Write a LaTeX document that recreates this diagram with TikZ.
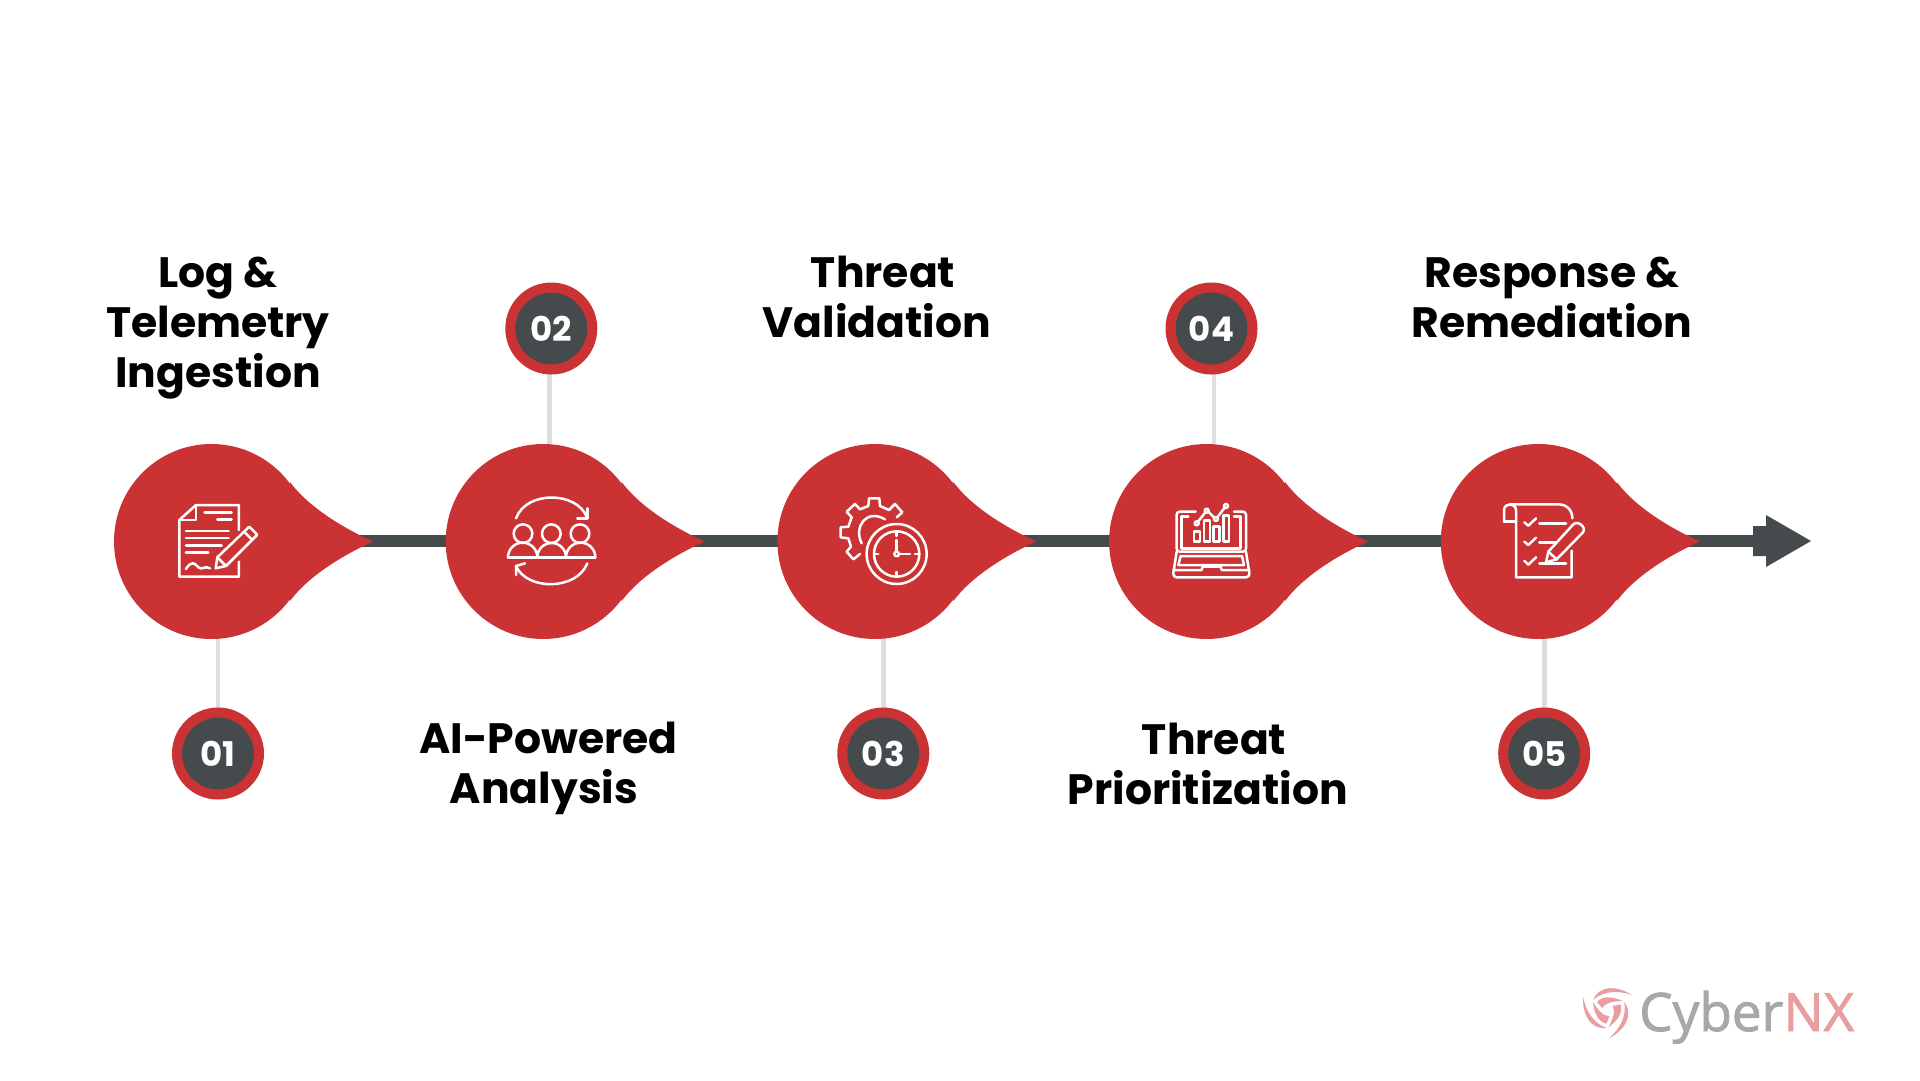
\documentclass[tikz,border=0pt]{standalone}
\usepackage{fontspec}
\setmainfont{Poppins}
\newfontfamily\logofont[FakeBold=1.6]{Open Sans}
\usepackage{xcolor}
\usetikzlibrary{positioning,backgrounds}
\definecolor{blobred}{HTML}{CB3234}
\definecolor{slate}{HTML}{454A4C}
\definecolor{stemgrey}{HTML}{DEDEDE}
\definecolor{logogrey}{HTML}{A6A9A9}
\definecolor{logopink}{HTML}{E89E9E}
\tikzset{
  blob/.style={circle,fill=blobred,minimum size=195pt,inner sep=0pt,on grid,node distance=331.7pt},
  badge/.style={circle,fill=slate,draw=blobred,line width=10pt,minimum size=82pt,inner sep=0pt,
    text=white,font=\fontsize{34}{34}\selectfont\bfseries},
  caption/.style={align=center,inner sep=0pt,font=\fontsize{42.5}{50}\selectfont\bfseries},
  spine/.style={draw=slate,line width=12pt},
  stem/.style={draw=stemgrey,line width=4.5pt},
  icon/.style={x=0.3333pt,y=-0.3333pt,draw=white,line width=2.5pt,line cap=round,line join=round},
  tail/.pic={\fill[blobred] (78.5,-59.5) .. controls (98,-33) and (135,-12) .. (161.5,0)
    .. controls (135,12) and (98,33) .. (78.5,59.5) -- cycle;},
  blade/.pic={
    \fill[logopink] (24,-15) .. controls (10,-24) and (-8,-26) .. (-15,-10)
      .. controls (-5,-19) and (10,-20) .. (24,-15) -- cycle;
    \fill[logopink] (15,-9) .. controls (3,-14) and (-6,-14) .. (-11,-8)
      -- (-6,-2) .. controls (-3,-7) and (5,-9) .. (15,-9) -- cycle;}
}
\begin{document}
\begin{tikzpicture}[x=1pt,y=-1pt]
    \useasboundingbox (0,0) rectangle (1920,1080);
    \node[blob] (Log) at (211.5,541.5) {};
    \node[blob,right of=Log] (AI) {};
    \node[blob,right of=AI] (Valid) {};
    \node[blob,right of=Valid] (Prior) {};
    \node[blob,right of=Prior] (Resp) {};
    \pic at (Log) {tail};
    \pic at (AI) {tail};
    \pic at (Valid) {tail};
    \pic at (Prior) {tail};
    \pic at (Resp) {tail};
    \node[badge] (One) at (218,753.5) {\raisebox{-1pt}{01}};
    \node[badge] (Two) at (551.3,328.5) {\raisebox{-1pt}{02}};
    \node[badge] (Three) at (883.3,753.5) {\raisebox{-1pt}{03}};
    \node[badge] (Four) at (1211.5,328.5) {\raisebox{-1pt}{04}};
    \node[badge] (Five) at (1544.2,753.5) {\raisebox{-1pt}{05}};
    \node[caption] (LogText) at (218,328) {Log \&\\Telemetry\\Ingestion};
    \node[caption] (AIText) at (544,768) {\hspace*{9pt}AI-Powered\\Analysis};
    \node[caption] (ValidText) at (877,297) {\hspace*{12pt}Threat\\Validation};
    \node[caption] (PriorText) at (1208,764) {\hspace*{12pt}Threat\\Prioritization};
    \node[caption] (RespText) at (1552,297) {Response \&\\Remediation};
    \coordinate (Shaft) at (1753,541);
    \begin{scope}[on background layer]
      \draw[spine] (Log.center |- Shaft) -- (Shaft);
      \draw[stem] (218,600) -- (One);
      \draw[stem] (549.5,445) -- (549.5,328);
      \draw[stem] (883.5,600) -- (883.5,753);
      \draw[stem] (1214,445) -- (1214,328);
      \draw[stem] (1544.5,600) -- (1544.5,753);
    \end{scope}
    \fill[slate] (Shaft) ++(0,-15) -- ++(13,0) -- ++(0,-11) -- (1811,541)
      -- (1766,567) -- ++(0,-11) -- ++(-13,0) -- cycle;
    % document and pencil
    \begin{scope}[shift={(100,420)},icon]
      \draw (417,330) -- (417,255) -- (288,255) -- (238,300) -- (238,470) -- (417,470) -- (417,425);
      \draw (288,255) -- (288,300) -- (238,300);
      \draw (314,277) -- (395,277) (352,299) -- (395,299) (258,333) -- (386,333);
      \draw (258,354) -- (386,354) (258,376) -- (365,376) (258,398) -- (325,398);
      \draw (258,447) .. controls (275,420) and (285,430) .. (295,442) .. controls (305,452) and (315,435) .. (330,445);
      \draw (347,445) -- (352,412) -- (448,320) -- (472,344) -- (378,438) -- cycle;
      \draw (352,412) -- (378,438) (432,335) -- (457,360);
    \end{scope}
    % people and arrows
    \begin{scope}[shift={(480,480)},icon]
      \draw (129,161) circle[radius=28] (214,161) circle[radius=28] (300,161) circle[radius=28];
      \draw (84,232) -- (346,232);
      \draw (84,232) arc[start angle=180,end angle=360,radius=44];
      \draw (172,232) arc[start angle=180,end angle=360,radius=43];
      \draw (258,232) arc[start angle=180,end angle=360,radius=44];
      \draw (108,115) .. controls (140,30) and (290,35) .. (320,110);
      \draw (292,115) -- (322,115) -- (322,85);
      \draw (322,250) .. controls (290,332) and (140,332) .. (108,258);
      \draw (135,250) -- (108,258) -- (108,285);
    \end{scope}
    % gear and clock
    \begin{scope}[shift={(820,480)},icon]
      \draw (230,222) circle[radius=90] (230,222) circle[radius=68] (230,222) circle[radius=7];
      \draw (230,155) -- (230,168) (230,276) -- (230,289) (162,222) -- (175,222) (285,222) -- (298,222);
      \draw (230,180) -- (230,215) (238,222) -- (270,222);
      \draw (120,222) -- (100,238) -- (80,215) -- (93,200) -- (85,175) -- (62,172) -- (62,142) -- (85,140)
        -- (95,112) -- (80,95) -- (105,72) -- (120,88) -- (145,78) -- (147,55) -- (178,55) -- (180,78)
        -- (207,90) -- (225,72) -- (247,97) -- (230,112);
      \draw (125,190) .. controls (100,140) and (140,85) .. (195,118);
    \end{scope}
    % laptop and chart
    \begin{scope}[shift={(1150,480)},icon]
      \draw[rounded corners=3pt] (137,95) -- (80,95) -- (80,215) -- (288,215) -- (288,95) -- (252,95);
      \draw (115,110) -- (95,110) -- (95,205) -- (272,205) -- (272,110) -- (252,110);
      \draw[rounded corners=4pt] (80,215) -- (68,292) -- (300,292) -- (288,215);
      \draw (92,228) -- (276,228) -- (282,255) -- (85,255) -- cycle;
      \draw (70,270) -- (155,270) -- (158,260) -- (212,260) -- (215,270) -- (298,270);
      \draw (132,155) rectangle (150,185) (162,122) rectangle (180,185);
      \draw (190,140) rectangle (208,185) (220,107) rectangle (237,185);
      \draw (140,130) circle[radius=6] (170,92) circle[radius=6] (198,117) circle[radius=6] (228,78) circle[radius=6];
      \draw (144,125) -- (166,97) (175,95) -- (193,113) (202,112) -- (224,83);
    \end{scope}
    % scroll and pencil
    \begin{scope}[shift={(1490,480)},icon]
      \draw (42,125) -- (42,91) .. controls (42,67) and (78,67) .. (78,91) -- (78,292) -- (245,292) -- (245,212);
      \draw (60,73) -- (205,73) .. controls (230,73) and (247,90) .. (247,115);
      \draw (42,125) -- (78,125);
      \draw (103,127) -- (115,137) -- (138,115) (103,185) -- (115,195) -- (138,173) (103,242) -- (115,254) -- (138,232);
      \draw (148,130) -- (228,130) (148,188) -- (198,188) (148,250) -- (228,250);
      \draw (168,247) -- (175,215) -- (248,135) .. controls (262,118) and (292,142) .. (278,158) -- (200,238) -- cycle;
      \draw (175,215) -- (200,238);
    \end{scope}
    % logo
    \coordinate (Swirl) at (1608,1010);
    \pic at (Swirl) {blade};
    \pic[rotate=120] at (Swirl) {blade};
    \pic[rotate=240] at (Swirl) {blade};
    \node[anchor=base west,inner sep=0pt,font=\logofont\fontsize{53}{53}\selectfont,text=logogrey] (Cyber) at (1639,1031) {Cyber};
    \node[anchor=base west,inner sep=0pt,font=\logofont\fontsize{53}{53}\selectfont,text=logopink] (NX) at (Cyber.base east) {NX};
  \end{tikzpicture}
\end{document}
